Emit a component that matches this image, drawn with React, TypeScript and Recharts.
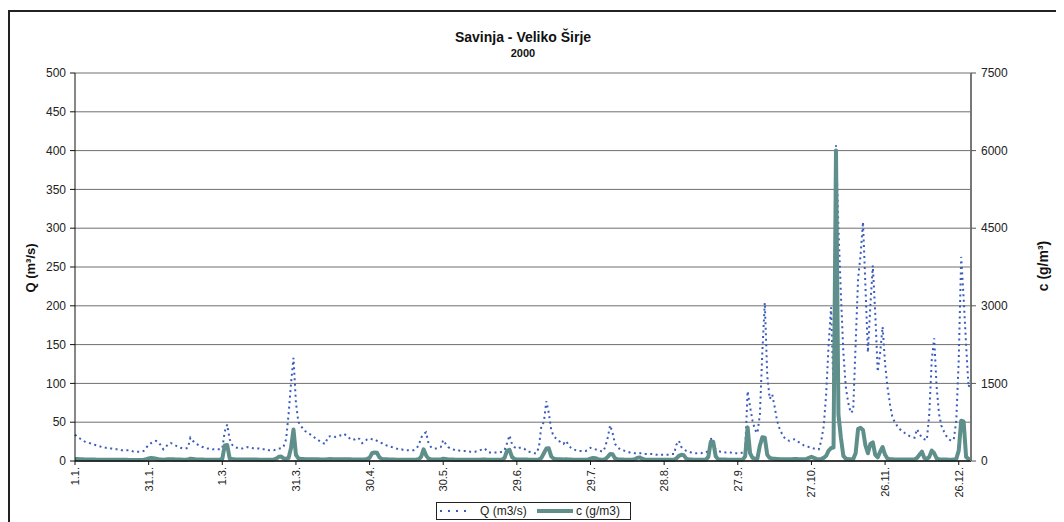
import React from 'react';
import { LineChart, Line, XAxis, YAxis, CartesianGrid } from 'recharts';

// Daily discharge Q (m3/s), year 2000 (366 days)
const Q_VALUES = [
  34, 31, 29, 27, 25, 24, 23, 22, 21, 20,
  19, 18, 17, 17, 16, 16, 15, 15, 15, 14,
  14, 14, 14, 13, 12, 12, 12, 12, 13, 17,
  21, 23, 25, 26, 24, 20, 15, 18, 22, 23,
  22, 20, 18, 17, 16, 16, 17, 30, 26, 23,
  21, 19, 18, 17, 16, 16, 15, 15, 15, 15,
  16, 38, 47, 28, 21, 18, 17, 16, 16, 17,
  18, 17, 17, 16, 16, 16, 15, 15, 15, 14,
  14, 14, 15, 16, 16, 19, 28, 60, 100, 133,
  75, 50, 46, 40, 38, 36, 34, 32, 29, 27,
  25, 23, 22, 31, 32, 32, 31, 32, 33, 32,
  34, 31, 29, 27, 28, 30, 28, 23, 25, 28,
  29, 28, 28, 26, 24, 23, 21, 20, 19, 18,
  17, 16, 15, 15, 14, 14, 14, 14, 14, 16,
  20, 30, 35, 37, 23, 18, 16, 16, 17, 18,
  27, 22, 18, 16, 15, 14, 14, 13, 13, 13,
  13, 12, 12, 12, 13, 14, 15, 16, 12, 11,
  11, 11, 11, 11, 12, 14, 23, 33, 22, 18,
  16, 17, 17, 16, 13, 12, 11, 10, 10, 18,
  46, 50, 77, 62, 40, 32, 29, 26, 24, 22,
  26, 21, 17, 15, 14, 13, 13, 13, 13, 14,
  17, 16, 15, 14, 13, 12, 18, 30, 46, 36,
  22, 18, 15, 14, 13, 12, 11, 11, 10, 10,
  10, 10, 9, 9, 9, 9, 9, 8, 8, 8,
  8, 8, 8, 9, 9, 21, 26, 18, 15, 13,
  12, 11, 10, 10, 10, 10, 11, 11, 13, 30,
  18, 15, 13, 12, 12, 11, 11, 11, 10, 10,
  10, 10, 11, 13, 90, 70, 52, 40, 36, 60,
  140, 204, 110, 80, 86, 70, 52, 42, 35, 30,
  27, 26, 27, 28, 26, 24, 22, 20, 19, 18,
  17, 16, 16, 15, 26, 45, 86, 150, 198, 90,
  407, 300, 215, 140, 95, 75, 62, 65, 150, 235,
  265, 308, 225, 140, 200, 252, 190, 115, 140, 173,
  125, 95, 73, 56, 50, 45, 41, 39, 36, 34,
  32, 31, 30, 41, 35, 30, 28, 27, 60, 130,
  158, 95, 60, 45, 38, 32, 28, 26, 28, 52,
  130, 263, 210, 150, 95, 105,
];

// Daily suspended sediment concentration c (g/m3)
const C_VALUES = [
  40, 38, 35, 33, 30, 30, 28, 28, 27, 26,
  26, 25, 25, 24, 24, 24, 23, 23, 22, 22,
  22, 22, 21, 21, 20, 20, 20, 21, 24, 35,
  50, 60, 55, 45, 35, 30, 26, 30, 35, 35,
  32, 30, 28, 27, 26, 26, 28, 45, 40, 34,
  30, 28, 27, 26, 25, 25, 24, 24, 24, 30,
  40, 300, 310, 50, 40, 32, 30, 28, 28, 30,
  30, 29, 28, 27, 27, 26, 26, 25, 25, 25,
  26, 30, 45, 80, 85, 50, 40, 60, 250, 610,
  120, 50, 40, 38, 36, 35, 34, 33, 32, 32,
  31, 30, 30, 35, 38, 36, 34, 34, 35, 34,
  36, 34, 32, 30, 30, 31, 30, 28, 30, 40,
  60, 150, 165, 160, 70, 40, 35, 32, 30, 28,
  27, 26, 26, 25, 25, 25, 24, 24, 25, 28,
  35, 80, 225, 110, 45, 35, 30, 28, 28, 30,
  45, 38, 30, 28, 27, 26, 26, 25, 25, 25,
  25, 24, 24, 24, 25, 26, 28, 30, 26, 24,
  24, 24, 23, 23, 25, 60, 200, 215, 80, 40,
  30, 30, 30, 29, 27, 26, 25, 24, 24, 30,
  60, 150, 240, 245, 90, 45, 38, 35, 33, 31,
  35, 30, 28, 26, 25, 24, 24, 24, 25, 30,
  45, 60, 55, 35, 28, 26, 35, 80, 135, 130,
  50, 35, 30, 28, 26, 25, 25, 26, 35, 60,
  70, 45, 30, 26, 25, 24, 24, 23, 23, 23,
  23, 23, 23, 24, 24, 50, 100, 120, 110, 45,
  30, 28, 26, 25, 25, 25, 26, 27, 80, 370,
  370, 90, 35, 30, 28, 27, 26, 26, 25, 25,
  25, 25, 26, 90, 650, 150, 60, 45, 50, 300,
  460, 450, 120, 60, 50, 45, 40, 36, 33, 32,
  32, 33, 35, 40, 38, 35, 33, 32, 40, 60,
  80, 60, 40, 35, 40, 60, 100, 200, 250, 260,
  6000, 900, 450, 100, 45, 38, 35, 36, 150, 620,
  640, 600, 300, 150, 330, 360, 120, 70, 180, 270,
  120, 45, 35, 32, 30, 30, 30, 29, 28, 28,
  28, 28, 30, 60, 120, 180, 60, 40, 80, 200,
  150, 50, 35, 30, 28, 27, 26, 26, 27, 40,
  200, 780, 760, 80, 40, 30,
];

const TICK_LABELS = ['1.1.', '31.1.', '1.3.', '31.3.', '30.4.', '30.5.', '29.6.', '29.7.', '28.8.', '27.9.', '27.10.', '26.11.', '26.12.'];
const Q_TICKS = [0, 50, 100, 150, 200, 250, 300, 350, 400, 450, 500];
const C_TICKS = [0, 1500, 3000, 4500, 6000, 7500];

const DAY_LABELS = Q_VALUES.map((_, i) => {
  const d = new Date(2000, 0, 1 + i);
  return `${d.getDate()}.${d.getMonth() + 1}.`;
});

const data = DAY_LABELS.map((day, i) => ({ day, q: Q_VALUES[i], c: C_VALUES[i] }));

const FONT = '"Liberation Sans", Arial, sans-serif';
const Q_COLOR = '#3a5cbd';
const C_COLOR = '#5f8f8a';

const XTick = (props: any) => {
  const { x, y, payload } = props;
  return (
    <g transform={`translate(${x},${y}) rotate(-90)`}>
      <text x={0} y={0} dy={4} textAnchor="end" fontSize={11} fontFamily={FONT} fill="#222">
        {payload.value}
      </text>
    </g>
  );
};

export default function App() {
  const W = 1051;
  const H = 518;
  return (
    <div
      style={{
        position: 'relative',
        top: 2,
        width: 1055,
        height: 520,
        boxSizing: 'border-box',
        borderTop: '2px solid #222',
        borderLeft: '2px solid #222',
        borderRight: '2px solid #222',
        fontFamily: FONT,
        background: '#fff',
      }}
    >
      <style>{'body{overflow:hidden}'}</style>
      <LineChart width={W} height={H} data={data} margin={{ top: 61, right: 0, left: 0, bottom: 0 }}>
        <CartesianGrid yAxisId="left" vertical={false} stroke="#6f6f6f" strokeWidth={1} />
        <XAxis
          dataKey="day"
          ticks={TICK_LABELS}
          interval={0}
          height={69}
          tickSize={4}
          tickMargin={2}
          tick={<XTick />}
          axisLine={{ stroke: '#111', strokeWidth: 1.5 }}
          tickLine={{ stroke: '#111' }}
        />
        <YAxis
          yAxisId="left"
          domain={[0, 500]}
          ticks={Q_TICKS}
          interval={0}
          width={65}
          tickSize={5}
          tickMargin={4}
          axisLine={{ stroke: '#111' }}
          tickLine={{ stroke: '#111' }}
          tick={{ fontSize: 12, fontFamily: FONT, fill: '#222' }}
        />
        <YAxis
          yAxisId="right"
          orientation="right"
          domain={[0, 7500]}
          ticks={C_TICKS}
          interval={0}
          width={90}
          tickSize={5}
          tickMargin={5}
          axisLine={{ stroke: '#777', strokeWidth: 2 }}
          tickLine={{ stroke: '#555' }}
          tick={{ fontSize: 12, fontFamily: FONT, fill: '#222' }}
        />
        <Line
          yAxisId="left"
          type="linear"
          dataKey="q"
          stroke={Q_COLOR}
          strokeWidth={2}
          strokeDasharray="2 3.5"
          dot={false}
          isAnimationActive={false}
        />
        <Line
          yAxisId="right"
          type="linear"
          dataKey="c"
          stroke={C_COLOR}
          strokeWidth={4}
          strokeLinejoin="round"
          dot={false}
          isAnimationActive={false}
        />
      </LineChart>
      <svg
        width={W}
        height={H}
        style={{ position: 'absolute', left: 0, top: 0, pointerEvents: 'none', overflow: 'visible' }}
      >
        <text x={513} y={30} textAnchor="middle" fontSize={14} fontWeight="bold" fontFamily={FONT} fill="#111">
          Savinja - Veliko Širje
        </text>
        <text x={513} y={44.5} textAnchor="middle" fontSize={11} fontWeight="bold" fontFamily={FONT} fill="#111">
          2000
        </text>
        <text transform="translate(25,256) rotate(-90)" textAnchor="middle" fontSize={13} fontWeight="bold" fontFamily={FONT} fill="#111">
          Q (m³/s)
        </text>
        <text transform="translate(1038,254) rotate(-90)" textAnchor="middle" fontSize={14} fontWeight="bold" fontFamily={FONT} fill="#111">
          c (g/m³)
        </text>
        <g>
          <rect x={426.5} y={490.5} width={194} height={17} fill="#fff" stroke="#222" strokeWidth={1} />
          <line x1={430} y1={499} x2={462} y2={499} stroke={Q_COLOR} strokeWidth={2} strokeDasharray="2 6" />
          <text x={470} y={503} fontSize={12} fontFamily={FONT} fill="#222">Q (m3/s)</text>
          <line x1={527} y1={499} x2={563} y2={499} stroke={C_COLOR} strokeWidth={4} />
          <text x={566} y={503} fontSize={12} fontFamily={FONT} fill="#222">c (g/m3)</text>
        </g>
      </svg>
    </div>
  );
}
